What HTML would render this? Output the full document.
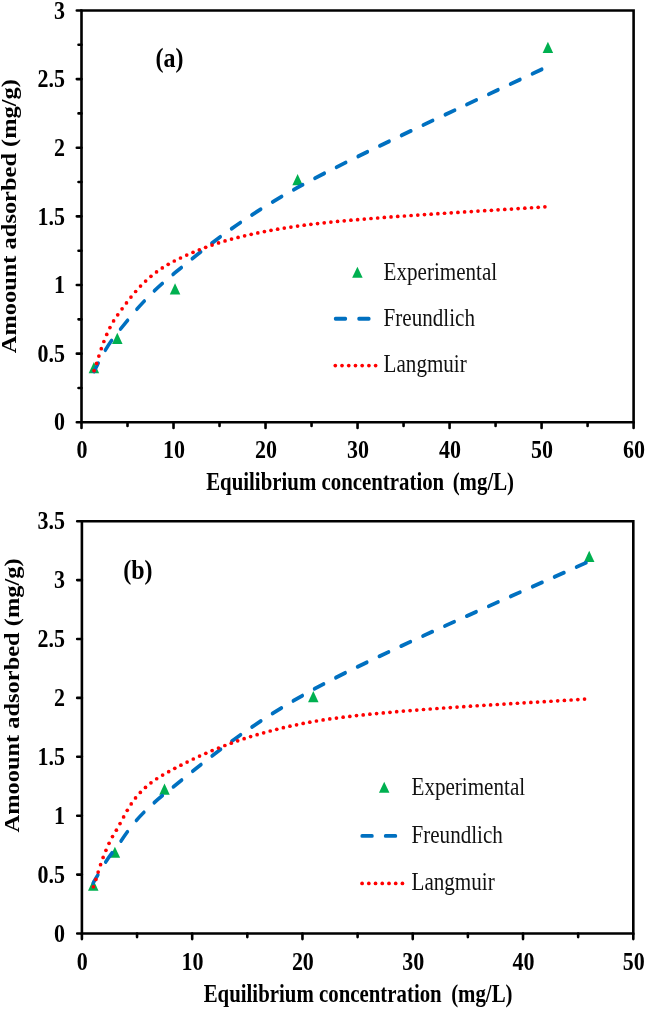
<!DOCTYPE html>
<html><head><meta charset="utf-8"><style>html,body{margin:0;padding:0;background:#fff;overflow:hidden}svg{display:block;filter:blur(0.35px)}</style></head>
<body>
<svg width="645" height="1009" viewBox="0 0 645 1009">
<rect width="645" height="1009" fill="#fff"/>
<path d="M81.50,10.45 H633.60 V422.30 H81.50 Z" fill="none" stroke="#000" stroke-width="2.60"/>
<path d="M76.80,422.30 H81.50 M76.80,353.66 H81.50 M76.80,285.02 H81.50 M76.80,216.37 H81.50 M76.80,147.73 H81.50 M76.80,79.09 H81.50 M76.80,10.45 H81.50 M78.50,387.98 H81.50 M78.50,319.34 H81.50 M78.50,250.70 H81.50 M78.50,182.05 H81.50 M78.50,113.41 H81.50 M78.50,44.77 H81.50 M81.50,422.30 V427.90 M173.52,422.30 V427.90 M265.53,422.30 V427.90 M357.55,422.30 V427.90 M449.57,422.30 V427.90 M541.58,422.30 V427.90 M633.60,422.30 V427.90 M127.51,422.30 V425.90 M219.53,422.30 V425.90 M311.54,422.30 V425.90 M403.56,422.30 V425.90 M495.57,422.30 V425.90 M587.59,422.30 V425.90" stroke="#000" stroke-width="2.60" stroke-linecap="round"/>
<path d="M81.90,521.20 H633.30 V933.50 H81.90 Z" fill="none" stroke="#000" stroke-width="2.60"/>
<path d="M77.20,933.50 H81.90 M77.20,874.60 H81.90 M77.20,815.70 H81.90 M77.20,756.80 H81.90 M77.20,697.90 H81.90 M77.20,639.00 H81.90 M77.20,580.10 H81.90 M77.20,521.20 H81.90 M81.90,933.50 V939.10 M192.18,933.50 V939.10 M302.46,933.50 V939.10 M412.74,933.50 V939.10 M523.02,933.50 V939.10 M633.30,933.50 V939.10 M137.04,933.50 V937.10 M247.32,933.50 V937.10 M357.60,933.50 V937.10 M467.88,933.50 V937.10 M578.16,933.50 V937.10" stroke="#000" stroke-width="2.60" stroke-linecap="round"/>
<g font-family="Liberation Serif" font-size="22" font-weight="bold" fill="#000">
<text transform="translate(81.90,457.750) scale(1,1.1)" text-anchor="middle">0</text>
<text transform="translate(173.92,457.750) scale(1,1.1)" text-anchor="middle">10</text>
<text transform="translate(265.93,457.750) scale(1,1.1)" text-anchor="middle">20</text>
<text transform="translate(357.95,457.750) scale(1,1.1)" text-anchor="middle">30</text>
<text transform="translate(449.97,457.750) scale(1,1.1)" text-anchor="middle">40</text>
<text transform="translate(541.98,457.750) scale(1,1.1)" text-anchor="middle">50</text>
<text transform="translate(634.00,457.750) scale(1,1.1)" text-anchor="middle">60</text>
<text transform="translate(64.9,430.468) scale(1,1.1)" text-anchor="end">0</text>
<text transform="translate(64.9,361.826) scale(1,1.1)" text-anchor="end">0.5</text>
<text transform="translate(64.9,293.184) scale(1,1.1)" text-anchor="end">1</text>
<text transform="translate(64.9,224.542) scale(1,1.1)" text-anchor="end">1.5</text>
<text transform="translate(64.9,155.901) scale(1,1.1)" text-anchor="end">2</text>
<text transform="translate(64.9,87.259) scale(1,1.1)" text-anchor="end">2.5</text>
<text transform="translate(64.9,18.617) scale(1,1.1)" text-anchor="end">3</text>
<text transform="translate(82.30,970.050) scale(1,1.1)" text-anchor="middle">0</text>
<text transform="translate(192.58,970.050) scale(1,1.1)" text-anchor="middle">10</text>
<text transform="translate(302.86,970.050) scale(1,1.1)" text-anchor="middle">20</text>
<text transform="translate(413.14,970.050) scale(1,1.1)" text-anchor="middle">30</text>
<text transform="translate(523.42,970.050) scale(1,1.1)" text-anchor="middle">40</text>
<text transform="translate(633.70,970.050) scale(1,1.1)" text-anchor="middle">50</text>
<text transform="translate(64.9,941.668) scale(1,1.1)" text-anchor="end">0</text>
<text transform="translate(64.9,882.768) scale(1,1.1)" text-anchor="end">0.5</text>
<text transform="translate(64.9,823.868) scale(1,1.1)" text-anchor="end">1</text>
<text transform="translate(64.9,764.967) scale(1,1.1)" text-anchor="end">1.5</text>
<text transform="translate(64.9,706.068) scale(1,1.1)" text-anchor="end">2</text>
<text transform="translate(64.9,647.168) scale(1,1.1)" text-anchor="end">2.5</text>
<text transform="translate(64.9,588.268) scale(1,1.1)" text-anchor="end">3</text>
<text transform="translate(64.9,529.368) scale(1,1.1)" text-anchor="end">3.5</text>
</g>
<g transform="scale(1,1.17)">
<path d="M93.90,309.47 L99.15,319.07 L88.65,319.07 Z" fill="#00B050"/>
<path d="M117.30,284.39 L122.55,293.99 L112.05,293.99 Z" fill="#00B050"/>
<path d="M175.05,242.12 L180.30,251.72 L169.80,251.72 Z" fill="#00B050"/>
<path d="M297.60,148.70 L302.85,158.30 L292.35,158.30 Z" fill="#00B050"/>
<path d="M547.90,35.63 L553.15,45.23 L542.65,45.23 Z" fill="#00B050"/>
<path d="M93.25,751.78 L98.50,761.38 L88.00,761.38 Z" fill="#00B050"/>
<path d="M114.90,723.62 L120.15,733.22 L109.65,733.22 Z" fill="#00B050"/>
<path d="M164.50,669.60 L169.75,679.20 L159.25,679.20 Z" fill="#00B050"/>
<path d="M313.30,590.67 L318.55,600.27 L308.05,600.27 Z" fill="#00B050"/>
<path d="M589.20,470.71 L594.45,480.31 L583.95,480.31 Z" fill="#00B050"/>
<path d="M93.900,317.526 C97.800,312.036 103.775,298.662 117.300,284.590 C130.825,270.517 145.000,253.808 175.050,233.091 C205.100,212.373 235.458,189.678 297.600,160.284 C359.742,130.889 506.183,73.983 547.900,56.723" fill="none" stroke="#0070C0" stroke-width="3.35" stroke-linecap="round" stroke-dasharray="10.10 13.37" stroke-dashoffset="1.6"/>
<path d="M93.250,754.549 C96.858,749.772 103.025,738.544 114.900,725.884 C126.775,713.225 131.433,701.355 164.500,678.593 C197.567,655.832 242.517,622.467 313.300,589.317 C384.083,556.167 543.217,497.963 589.200,479.692" fill="none" stroke="#0070C0" stroke-width="3.35" stroke-linecap="round" stroke-dasharray="10.10 13.37" stroke-dashoffset="1.6"/>
<path d="M357.40,227.89 L362.65,237.49 L352.15,237.49 Z" fill="#00B050"/>
<path d="M335.48,272.479 H368.93" stroke="#0070C0" stroke-width="3.35" stroke-linecap="round" stroke-dasharray="10.00 13.45"/>
<text x="383.60" y="239.060" font-family="Liberation Serif" font-size="21.1" fill="#111">Experimental</text>
<text x="383.60" y="278.376" font-family="Liberation Serif" font-size="21.1" fill="#111">Freundlich</text>
<text x="383.60" y="318.376" font-family="Liberation Serif" font-size="21.1" fill="#111">Langmuir</text>
<path d="M384.20,668.06 L389.45,677.66 L378.95,677.66 Z" fill="#00B050"/>
<path d="M362.07,714.444 H395.52" stroke="#0070C0" stroke-width="3.35" stroke-linecap="round" stroke-dasharray="10.00 13.45"/>
<text x="411.50" y="679.487" font-family="Liberation Serif" font-size="21.1" fill="#111">Experimental</text>
<text x="411.50" y="720.171" font-family="Liberation Serif" font-size="21.1" fill="#111">Freundlich</text>
<text x="411.50" y="760.342" font-family="Liberation Serif" font-size="21.1" fill="#111">Langmuir</text>
<g font-family="Liberation Serif" font-size="20.85" font-weight="bold" fill="#000">
<text x="206.2" y="418.718" xml:space="preserve">Equilibrium concentration  <tspan dx="-2">(mg/L)</tspan></text>
<text x="203.7" y="856.667" xml:space="preserve">Equilibrium concentration  <tspan dx="-1">(mg/L)</tspan></text>
</g>
<g font-family="Liberation Serif" font-size="20.88" font-weight="bold" fill="#000">
<text transform="translate(15.8,301.880) rotate(-90)">Amoount adsorbed (mg/g)</text>
<text transform="translate(19.1,711.538) rotate(-90)">Amoount adsorbed (mg/g)</text>
</g>
</g>
<g fill="#FF0000"><circle cx="94.07" cy="370.67" r="1.85"/><circle cx="96.57" cy="363.40" r="1.85"/><circle cx="98.88" cy="356.04" r="1.85"/><circle cx="101.28" cy="348.72" r="1.85"/><circle cx="103.87" cy="341.49" r="1.85"/><circle cx="106.74" cy="334.41" r="1.85"/><circle cx="109.95" cy="327.53" r="1.85"/><circle cx="113.59" cy="320.95" r="1.85"/><circle cx="117.73" cy="314.79" r="1.85"/><circle cx="122.08" cy="308.83" r="1.85"/><circle cx="126.46" cy="302.91" r="1.85"/><circle cx="130.97" cy="297.10" r="1.85"/><circle cx="135.64" cy="291.48" r="1.85"/><circle cx="140.52" cy="286.11" r="1.85"/><circle cx="145.63" cy="281.04" r="1.85"/><circle cx="150.96" cy="276.30" r="1.85"/><circle cx="156.52" cy="271.93" r="1.85"/><circle cx="162.28" cy="267.92" r="1.85"/><circle cx="168.21" cy="264.28" r="1.85"/><circle cx="174.30" cy="261.01" r="1.85"/><circle cx="180.48" cy="257.99" r="1.85"/><circle cx="186.71" cy="255.10" r="1.85"/><circle cx="192.99" cy="252.35" r="1.85"/><circle cx="199.31" cy="249.75" r="1.85"/><circle cx="205.67" cy="247.31" r="1.85"/><circle cx="212.08" cy="245.03" r="1.85"/><circle cx="218.53" cy="242.91" r="1.85"/><circle cx="225.02" cy="240.93" r="1.85"/><circle cx="231.53" cy="239.09" r="1.85"/><circle cx="238.07" cy="237.38" r="1.85"/><circle cx="244.63" cy="235.78" r="1.85"/><circle cx="251.20" cy="234.29" r="1.85"/><circle cx="257.80" cy="232.90" r="1.85"/><circle cx="264.40" cy="231.59" r="1.85"/><circle cx="271.02" cy="230.36" r="1.85"/><circle cx="277.65" cy="229.20" r="1.85"/><circle cx="284.28" cy="228.10" r="1.85"/><circle cx="290.92" cy="227.06" r="1.85"/><circle cx="297.57" cy="226.07" r="1.85"/><circle cx="304.22" cy="225.16" r="1.85"/><circle cx="310.88" cy="224.32" r="1.85"/><circle cx="317.55" cy="223.54" r="1.85"/><circle cx="324.22" cy="222.81" r="1.85"/><circle cx="330.89" cy="222.12" r="1.85"/><circle cx="337.57" cy="221.46" r="1.85"/><circle cx="344.25" cy="220.83" r="1.85"/><circle cx="350.93" cy="220.22" r="1.85"/><circle cx="357.61" cy="219.64" r="1.85"/><circle cx="364.29" cy="219.07" r="1.85"/><circle cx="370.98" cy="218.52" r="1.85"/><circle cx="377.66" cy="217.99" r="1.85"/><circle cx="384.35" cy="217.47" r="1.85"/><circle cx="391.03" cy="216.97" r="1.85"/><circle cx="397.72" cy="216.47" r="1.85"/><circle cx="404.41" cy="215.98" r="1.85"/><circle cx="411.09" cy="215.51" r="1.85"/><circle cx="417.78" cy="215.04" r="1.85"/><circle cx="424.47" cy="214.58" r="1.85"/><circle cx="431.16" cy="214.13" r="1.85"/><circle cx="437.85" cy="213.68" r="1.85"/><circle cx="444.54" cy="213.24" r="1.85"/><circle cx="451.23" cy="212.81" r="1.85"/><circle cx="457.92" cy="212.38" r="1.85"/><circle cx="464.61" cy="211.96" r="1.85"/><circle cx="471.30" cy="211.53" r="1.85"/><circle cx="477.99" cy="211.12" r="1.85"/><circle cx="484.68" cy="210.70" r="1.85"/><circle cx="491.37" cy="210.28" r="1.85"/><circle cx="498.06" cy="209.87" r="1.85"/><circle cx="504.75" cy="209.46" r="1.85"/><circle cx="511.44" cy="209.04" r="1.85"/><circle cx="518.13" cy="208.62" r="1.85"/><circle cx="524.82" cy="208.20" r="1.85"/><circle cx="531.51" cy="207.76" r="1.85"/><circle cx="538.20" cy="207.32" r="1.85"/><circle cx="544.89" cy="206.84" r="1.85"/></g>
<g fill="#FF0000"><circle cx="93.42" cy="886.77" r="1.85"/><circle cx="95.87" cy="879.45" r="1.85"/><circle cx="98.18" cy="872.07" r="1.85"/><circle cx="100.57" cy="864.72" r="1.85"/><circle cx="103.14" cy="857.45" r="1.85"/><circle cx="105.94" cy="850.31" r="1.85"/><circle cx="109.04" cy="843.33" r="1.85"/><circle cx="112.51" cy="836.60" r="1.85"/><circle cx="116.37" cy="830.17" r="1.85"/><circle cx="120.06" cy="823.60" r="1.85"/><circle cx="123.62" cy="816.92" r="1.85"/><circle cx="127.27" cy="810.32" r="1.85"/><circle cx="131.21" cy="803.96" r="1.85"/><circle cx="135.55" cy="797.96" r="1.85"/><circle cx="140.32" cy="792.42" r="1.85"/><circle cx="145.48" cy="787.39" r="1.85"/><circle cx="150.96" cy="782.84" r="1.85"/><circle cx="156.69" cy="778.75" r="1.85"/><circle cx="162.63" cy="775.07" r="1.85"/><circle cx="168.69" cy="771.67" r="1.85"/><circle cx="174.79" cy="768.37" r="1.85"/><circle cx="180.92" cy="765.16" r="1.85"/><circle cx="187.09" cy="762.04" r="1.85"/><circle cx="193.30" cy="759.02" r="1.85"/><circle cx="199.54" cy="756.11" r="1.85"/><circle cx="205.82" cy="753.30" r="1.85"/><circle cx="212.13" cy="750.60" r="1.85"/><circle cx="218.47" cy="748.00" r="1.85"/><circle cx="224.85" cy="745.52" r="1.85"/><circle cx="231.25" cy="743.14" r="1.85"/><circle cx="237.68" cy="740.86" r="1.85"/><circle cx="244.14" cy="738.69" r="1.85"/><circle cx="250.62" cy="736.62" r="1.85"/><circle cx="257.13" cy="734.65" r="1.85"/><circle cx="263.66" cy="732.78" r="1.85"/><circle cx="270.20" cy="731.00" r="1.85"/><circle cx="276.77" cy="729.32" r="1.85"/><circle cx="283.35" cy="727.72" r="1.85"/><circle cx="289.94" cy="726.22" r="1.85"/><circle cx="296.55" cy="724.79" r="1.85"/><circle cx="303.17" cy="723.46" r="1.85"/><circle cx="309.81" cy="722.20" r="1.85"/><circle cx="316.45" cy="721.02" r="1.85"/><circle cx="323.11" cy="719.95" r="1.85"/><circle cx="329.77" cy="718.96" r="1.85"/><circle cx="336.45" cy="718.05" r="1.85"/><circle cx="343.13" cy="717.19" r="1.85"/><circle cx="349.81" cy="716.39" r="1.85"/><circle cx="356.50" cy="715.62" r="1.85"/><circle cx="363.19" cy="714.90" r="1.85"/><circle cx="369.89" cy="714.20" r="1.85"/><circle cx="376.58" cy="713.54" r="1.85"/><circle cx="383.28" cy="712.90" r="1.85"/><circle cx="389.98" cy="712.29" r="1.85"/><circle cx="396.68" cy="711.70" r="1.85"/><circle cx="403.38" cy="711.12" r="1.85"/><circle cx="410.09" cy="710.57" r="1.85"/><circle cx="416.79" cy="710.03" r="1.85"/><circle cx="423.50" cy="709.51" r="1.85"/><circle cx="430.20" cy="709.00" r="1.85"/><circle cx="436.91" cy="708.50" r="1.85"/><circle cx="443.62" cy="708.02" r="1.85"/><circle cx="450.32" cy="707.55" r="1.85"/><circle cx="457.03" cy="707.08" r="1.85"/><circle cx="463.74" cy="706.63" r="1.85"/><circle cx="470.45" cy="706.18" r="1.85"/><circle cx="477.16" cy="705.75" r="1.85"/><circle cx="483.87" cy="705.32" r="1.85"/><circle cx="490.58" cy="704.89" r="1.85"/><circle cx="497.29" cy="704.48" r="1.85"/><circle cx="504.00" cy="704.06" r="1.85"/><circle cx="510.71" cy="703.65" r="1.85"/><circle cx="517.42" cy="703.25" r="1.85"/><circle cx="524.13" cy="702.85" r="1.85"/><circle cx="530.85" cy="702.44" r="1.85"/><circle cx="537.56" cy="702.04" r="1.85"/><circle cx="544.27" cy="701.64" r="1.85"/><circle cx="550.98" cy="701.24" r="1.85"/><circle cx="557.69" cy="700.83" r="1.85"/><circle cx="564.40" cy="700.41" r="1.85"/><circle cx="571.11" cy="699.98" r="1.85"/><circle cx="577.82" cy="699.53" r="1.85"/><circle cx="584.53" cy="699.05" r="1.85"/></g>
<g fill="#FF0000"><circle cx="335.30" cy="365.60" r="1.85"/><circle cx="342.02" cy="365.60" r="1.85"/><circle cx="348.74" cy="365.60" r="1.85"/><circle cx="355.46" cy="365.60" r="1.85"/><circle cx="362.18" cy="365.60" r="1.85"/><circle cx="368.90" cy="365.60" r="1.85"/><circle cx="375.62" cy="365.60" r="1.85"/></g>
<g fill="#FF0000"><circle cx="362.10" cy="883.40" r="1.85"/><circle cx="368.82" cy="883.40" r="1.85"/><circle cx="375.54" cy="883.40" r="1.85"/><circle cx="382.26" cy="883.40" r="1.85"/><circle cx="388.98" cy="883.40" r="1.85"/><circle cx="395.70" cy="883.40" r="1.85"/><circle cx="402.42" cy="883.40" r="1.85"/></g>
<g font-family="Liberation Serif" font-size="24" font-weight="bold" fill="#000">
<text transform="translate(155.4,67.35) scale(1,1.14)">(a)</text>
<text transform="translate(123.2,578.87) scale(1,1.14)">(b)</text>
</g>
</svg>
</body></html>
